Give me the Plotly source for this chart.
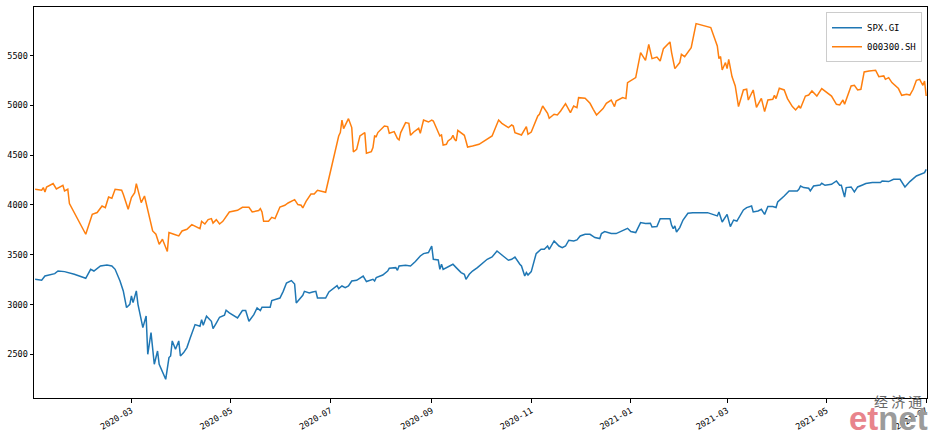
import plotly.graph_objects as go

# ---------------- data ----------------
spx_dates = [
    "2020-01-02", "2020-01-06", "2020-01-08", "2020-01-12", "2020-01-14", "2020-01-16", "2020-01-20",
    "2020-01-26", "2020-02-02", "2020-02-05", "2020-02-07", "2020-02-11", "2020-02-15", "2020-02-18",
    "2020-02-20", "2020-02-23", "2020-02-25", "2020-02-27", "2020-02-29", "2020-03-01", "2020-03-02",
    "2020-03-04", "2020-03-05", "2020-03-08", "2020-03-10", "2020-03-11", "2020-03-13", "2020-03-15",
    "2020-03-17", "2020-03-18", "2020-03-20", "2020-03-22", "2020-03-24", "2020-03-25", "2020-03-26",
    "2020-03-28", "2020-03-30", "2020-03-31", "2020-04-02", "2020-04-04", "2020-04-06", "2020-04-09",
    "2020-04-12", "2020-04-13", "2020-04-14", "2020-04-16", "2020-04-19", "2020-04-20", "2020-04-22",
    "2020-04-24", "2020-04-27", "2020-04-28", "2020-04-30", "2020-05-05", "2020-05-08", "2020-05-10",
    "2020-05-12", "2020-05-15", "2020-05-17", "2020-05-19", "2020-05-20", "2020-05-25", "2020-05-26",
    "2020-05-31", "2020-06-02", "2020-06-04", "2020-06-07", "2020-06-09", "2020-06-10", "2020-06-12",
    "2020-06-14", "2020-06-15", "2020-06-18", "2020-06-20", "2020-06-22", "2020-06-23", "2020-06-28",
    "2020-06-30", "2020-07-03", "2020-07-05", "2020-07-06", "2020-07-08", "2020-07-10", "2020-07-12",
    "2020-07-14", "2020-07-17", "2020-07-21", "2020-07-23", "2020-07-27", "2020-07-28", "2020-07-29",
    "2020-08-02", "2020-08-05", "2020-08-06", "2020-08-10", "2020-08-11", "2020-08-12", "2020-08-16",
    "2020-08-19", "2020-08-22", "2020-08-25", "2020-08-27", "2020-08-30", "2020-09-01", "2020-09-02",
    "2020-09-05", "2020-09-06", "2020-09-07", "2020-09-08", "2020-09-10", "2020-09-14", "2020-09-16",
    "2020-09-19", "2020-09-21", "2020-09-22", "2020-09-24", "2020-09-26", "2020-09-29", "2020-10-03",
    "2020-10-05", "2020-10-08", "2020-10-11", "2020-10-14", "2020-10-18", "2020-10-20", "2020-10-22",
    "2020-10-25", "2020-10-26", "2020-10-28", "2020-10-29", "2020-10-30", "2020-11-01", "2020-11-04",
    "2020-11-07", "2020-11-09", "2020-11-11", "2020-11-12", "2020-11-15", "2020-11-18", "2020-11-20",
    "2020-11-22", "2020-11-24", "2020-11-27", "2020-11-29", "2020-12-01", "2020-12-04", "2020-12-07",
    "2020-12-10", "2020-12-13", "2020-12-14", "2020-12-16", "2020-12-20", "2020-12-23", "2020-12-26",
    "2020-12-28", "2020-12-30", "2021-01-01", "2021-01-04", "2021-01-07", "2021-01-10", "2021-01-13",
    "2021-01-14", "2021-01-17", "2021-01-19", "2021-01-22", "2021-01-25", "2021-01-26", "2021-01-27",
    "2021-01-28", "2021-01-29", "2021-01-31", "2021-02-02", "2021-02-05", "2021-02-08", "2021-02-17",
    "2021-02-21", "2021-02-23", "2021-02-24", "2021-02-25", "2021-02-26", "2021-03-01", "2021-03-02",
    "2021-03-03", "2021-03-05", "2021-03-07", "2021-03-11", "2021-03-13", "2021-03-16", "2021-03-17",
    "2021-03-20", "2021-03-22", "2021-03-24", "2021-03-26", "2021-03-29", "2021-03-31", "2021-04-01",
    "2021-04-03", "2021-04-05", "2021-04-08", "2021-04-13", "2021-04-14", "2021-04-15", "2021-04-17",
    "2021-04-20", "2021-04-21", "2021-04-23", "2021-04-27", "2021-04-28", "2021-04-30", "2021-05-04",
    "2021-05-07", "2021-05-09", "2021-05-10", "2021-05-12", "2021-05-13", "2021-05-16", "2021-05-18",
    "2021-05-20", "2021-05-23", "2021-05-25", "2021-05-29", "2021-06-03", "2021-06-04", "2021-06-08",
    "2021-06-11", "2021-06-15", "2021-06-18", "2021-06-21", "2021-06-25", "2021-06-28", "2021-06-30",
    "2021-07-01",
]
spx_values = [
    3254, 3244, 3287, 3304, 3311, 3337, 3331,
    3304, 3264, 3354, 3337, 3388, 3398, 3388,
    3354, 3237, 3137, 2970, 3003, 3086, 3020,
    3137, 3003, 2769, 2886, 2501, 2719, 2401,
    2534, 2401, 2317, 2250, 2468, 2484, 2635,
    2551, 2635, 2484, 2518, 2568, 2665, 2799,
    2782, 2849, 2792, 2883, 2832, 2759, 2815,
    2873, 2893, 2943, 2916, 2866, 2940, 2940,
    2832, 2899, 2966, 2940, 2973, 2973, 3040,
    3066, 3133, 3217, 3241, 3207, 3016, 3050,
    3093, 3133, 3116, 3127, 3133, 3066, 3066,
    3127, 3161, 3191, 3161, 3187, 3171, 3187,
    3237, 3244, 3287, 3231, 3254, 3237, 3271,
    3297, 3337, 3364, 3371, 3344, 3388, 3395,
    3388, 3432, 3488, 3512, 3522, 3588, 3455,
    3448, 3354, 3405, 3354, 3371, 3405, 3371,
    3321, 3304, 3254, 3304, 3337, 3371, 3422,
    3455, 3478, 3538, 3498, 3445, 3455, 3478,
    3405, 3388, 3287, 3321, 3297, 3331, 3512,
    3555, 3555, 3588, 3555, 3639, 3588, 3572,
    3588, 3646, 3639, 3649, 3689, 3706, 3706,
    3673, 3663, 3713, 3733, 3713, 3713, 3739,
    3749, 3766, 3733, 3723, 3823, 3813, 3816,
    3779, 3783, 3863, 3863, 3863, 3796, 3763,
    3789, 3729, 3773, 3849, 3917, 3923, 3923,
    3897, 3890, 3930, 3873, 3829, 3906, 3839,
    3783, 3849, 3839, 3950, 3974, 3990, 3930,
    3940, 3957, 3906, 3984, 3984, 3974, 4030,
    4057, 4090, 4141, 4141, 4158, 4191, 4175,
    4168, 4141, 4191, 4201, 4218, 4198, 4208,
    4241, 4198, 4198, 4080, 4175, 4181, 4131,
    4181, 4201, 4215, 4225, 4225, 4241, 4235,
    4258, 4258, 4181, 4235, 4291, 4308, 4325,
    4358,
]

csi_dates = [
    "2020-01-02", "2020-01-06", "2020-01-07", "2020-01-08", "2020-01-09", "2020-01-13", "2020-01-15",
    "2020-01-19", "2020-01-20", "2020-01-22", "2020-01-23", "2020-02-02", "2020-02-04", "2020-02-06",
    "2020-02-09", "2020-02-12", "2020-02-14", "2020-02-16", "2020-02-18", "2020-02-20", "2020-02-24",
    "2020-02-25", "2020-02-28", "2020-03-01", "2020-03-03", "2020-03-04", "2020-03-07", "2020-03-09",
    "2020-03-14", "2020-03-16", "2020-03-18", "2020-03-20", "2020-03-23", "2020-03-24", "2020-03-27",
    "2020-03-30", "2020-04-01", "2020-04-04", "2020-04-07", "2020-04-09", "2020-04-12", "2020-04-13",
    "2020-04-15", "2020-04-17", "2020-04-19", "2020-04-20", "2020-04-22", "2020-04-24", "2020-04-26",
    "2020-04-30", "2020-05-05", "2020-05-08", "2020-05-12", "2020-05-14", "2020-05-18", "2020-05-19",
    "2020-05-20", "2020-05-21", "2020-05-24", "2020-05-26", "2020-05-28", "2020-05-31", "2020-06-03",
    "2020-06-05", "2020-06-09", "2020-06-11", "2020-06-13", "2020-06-14", "2020-06-16", "2020-06-19",
    "2020-06-21", "2020-06-23", "2020-06-28", "2020-07-06", "2020-07-07", "2020-07-08", "2020-07-09",
    "2020-07-12", "2020-07-14", "2020-07-15", "2020-07-17", "2020-07-19", "2020-07-22", "2020-07-23",
    "2020-07-26", "2020-07-27", "2020-07-28", "2020-07-29", "2020-07-30", "2020-08-03", "2020-08-05",
    "2020-08-06", "2020-08-09", "2020-08-11", "2020-08-12", "2020-08-13", "2020-08-16", "2020-08-18",
    "2020-08-19", "2020-08-21", "2020-08-24", "2020-08-25", "2020-08-27", "2020-08-30", "2020-09-01",
    "2020-09-02", "2020-09-04", "2020-09-06", "2020-09-07", "2020-09-08", "2020-09-10", "2020-09-11",
    "2020-09-13", "2020-09-14", "2020-09-15", "2020-09-16", "2020-09-17", "2020-09-20", "2020-09-21",
    "2020-09-22", "2020-09-23", "2020-09-26", "2020-09-30", "2020-10-08", "2020-10-12", "2020-10-14",
    "2020-10-18", "2020-10-20", "2020-10-21", "2020-10-22", "2020-10-26", "2020-10-29", "2020-10-30",
    "2020-11-01", "2020-11-05", "2020-11-06", "2020-11-08", "2020-11-11", "2020-11-12", "2020-11-15",
    "2020-11-17", "2020-11-19", "2020-11-22", "2020-11-25", "2020-11-27", "2020-11-29", "2020-11-30",
    "2020-12-04", "2020-12-07", "2020-12-09", "2020-12-11", "2020-12-15", "2020-12-17", "2020-12-20",
    "2020-12-22", "2020-12-23", "2020-12-27", "2020-12-29", "2020-12-30", "2021-01-04", "2021-01-07",
    "2021-01-10", "2021-01-12", "2021-01-14", "2021-01-17", "2021-01-19", "2021-01-21", "2021-01-25",
    "2021-01-26", "2021-01-28", "2021-01-31", "2021-02-01", "2021-02-03", "2021-02-07", "2021-02-10",
    "2021-02-19", "2021-02-23", "2021-02-24", "2021-02-25", "2021-02-26", "2021-02-28", "2021-03-01",
    "2021-03-02", "2021-03-04", "2021-03-06", "2021-03-08", "2021-03-11", "2021-03-13", "2021-03-14",
    "2021-03-17", "2021-03-19", "2021-03-22", "2021-03-24", "2021-03-26", "2021-03-29", "2021-03-30",
    "2021-03-31", "2021-04-02", "2021-04-05", "2021-04-07", "2021-04-10", "2021-04-12", "2021-04-14",
    "2021-04-15", "2021-04-18", "2021-04-20", "2021-04-22", "2021-04-25", "2021-04-28", "2021-05-04",
    "2021-05-07", "2021-05-09", "2021-05-11", "2021-05-12", "2021-05-14", "2021-05-16", "2021-05-18",
    "2021-05-20", "2021-05-22", "2021-05-24", "2021-05-27", "2021-05-31", "2021-06-02", "2021-06-05",
    "2021-06-06", "2021-06-08", "2021-06-10", "2021-06-14", "2021-06-16", "2021-06-19", "2021-06-21",
    "2021-06-23", "2021-06-25", "2021-06-27", "2021-06-29", "2021-06-30", "2021-07-01",
]
csi_values = [
    4158, 4148, 4175, 4130, 4181, 4215, 4161,
    4198, 4141, 4158, 4014, 3706, 3806, 3907,
    3924, 3990, 3974, 4080, 4067, 4158, 4148,
    4107, 3957, 4074, 4124, 4215, 4024, 4090,
    3739, 3706, 3605, 3656, 3533, 3723, 3706,
    3689, 3739, 3756, 3803, 3786, 3763, 3836,
    3809, 3853, 3863, 3819, 3853, 3809, 3836,
    3930, 3947, 3977, 3977, 3930, 3944, 3964,
    3930, 3836, 3836, 3876, 3863, 3980, 3997,
    4020, 4054, 4004, 3997, 3970, 4037, 4110,
    4110, 4148, 4128, 4693, 4727, 4853, 4767,
    4867, 4777, 4532, 4559, 4693, 4727, 4519,
    4536, 4576, 4693, 4687, 4727, 4793, 4787,
    4720, 4737, 4667, 4653, 4727, 4827, 4820,
    4700, 4733, 4770, 4720, 4853, 4833, 4853,
    4843, 4760, 4693, 4703, 4602, 4609, 4643,
    4667, 4700, 4660, 4643, 4750, 4717, 4700,
    4643, 4582, 4592, 4609, 4693, 4853, 4820,
    4777, 4803, 4793, 4727, 4703, 4787, 4710,
    4733, 4894, 4911, 4994, 4920, 4870, 4911,
    4904, 4944, 5018, 4928, 4994, 4978, 5078,
    5071, 5021, 4961, 4904, 4968, 5021, 5054,
    4988, 5044, 5078, 5068, 5229, 5279, 5530,
    5453, 5613, 5470, 5486, 5446, 5570, 5637,
    5530, 5369, 5430, 5513, 5490, 5580, 5821,
    5781, 5597, 5470, 5490, 5356, 5430, 5369,
    5463, 5289, 5195, 4988, 5155, 5162, 5054,
    5155, 4981, 5071, 4938, 5054, 5061, 5101,
    5068, 5172, 5155, 5068, 4988, 4954, 4994,
    4971, 5094, 5104, 5145, 5094, 5169, 5094,
    5011, 5004, 5054, 5011, 5111, 5195, 5202,
    5155, 5162, 5336, 5346, 5353, 5289, 5296,
    5262, 5279, 5229, 5169, 5101, 5111, 5104,
    5162, 5252, 5262, 5202, 5245, 5094,
]

series_names = ["SPX.GI", "000300.SH"]
y_ticks = [2500, 3000, 3500, 4000, 4500, 5000, 5500]

# ---------------- figure ----------------
FONT = "DejaVu Sans Mono"

fig = go.Figure()
fig.add_trace(go.Scatter(x=spx_dates, y=spx_values, mode="lines", name=series_names[0],
                         line=dict(color="#1f77b4", width=1.5)))
fig.add_trace(go.Scatter(x=csi_dates, y=csi_values, mode="lines", name=series_names[1],
                         line=dict(color="#ff7f0e", width=1.5)))

fig.update_layout(
    width=934, height=437,
    margin=dict(l=34, r=7, t=7, b=39, autoexpand=False),
    paper_bgcolor="white", plot_bgcolor="white",
    font=dict(family=FONT, size=8.5, color="black"),
    showlegend=True,
    legend=dict(x=0.9944, y=0.9864, xanchor="right", yanchor="top",
                bgcolor="rgba(255,255,255,0.8)", bordercolor="#cccccc", borderwidth=1,
                font=dict(family=FONT, size=9, color="black"),
                tracegroupgap=0, itemwidth=30),
    annotations=[
        dict(text="经 济 通", xref="paper", yref="paper", x=0.9966, y=-0.008,
             xanchor="right", yanchor="middle", showarrow=False,
             font=dict(family="Noto Sans CJK SC", size=14, color="#666666")),
        dict(text="<b><span style='color:#e8848c'>et</span><span style='color:#9b9b9b'>net</span></b>",
             xref="paper", yref="paper", x=1.0034, y=-0.106,
             xanchor="right", yanchor="bottom", showarrow=False,
             font=dict(family="Liberation Sans", size=33, color="#9b9b9b")),
    ],
)

fig.update_xaxes(
    type="date", automargin=False,
    range=["2020-01-01 07:00", "2021-07-01 12:00"],
    tick0="2020-03-01", dtick="M2", tickformat="%Y-%m",
    tickangle=-30,
    showgrid=False, zeroline=False,
    showline=True, linecolor="black", linewidth=1, mirror=True,
    ticks="outside", ticklen=3.5, tickwidth=1, tickcolor="black",
    tickfont=dict(family=FONT, size=8.5, color="black"),
)
fig.update_yaxes(
    automargin=False,
    range=[2062, 5988],
    tickmode="array", tickvals=y_ticks, ticktext=[str(v) for v in y_ticks],
    showgrid=False, zeroline=False,
    showline=True, linecolor="black", linewidth=1, mirror=True,
    ticks="outside", ticklen=3.5, tickwidth=1, tickcolor="black",
    tickfont=dict(family=FONT, size=8.5, color="black"),
)

fig.write_html("out.html", config={"displayModeBar": False},
               post_script="document.body.style.margin='0';")
